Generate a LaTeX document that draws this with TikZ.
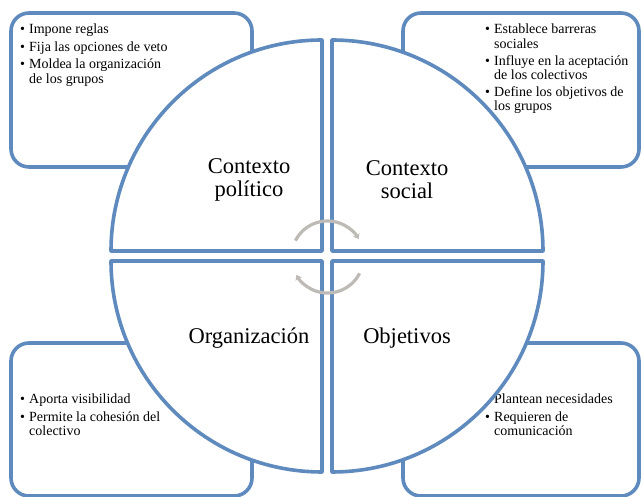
\documentclass[tikz,border=0pt]{standalone}
\usepackage{fontspec}
\setmainfont{Liberation Serif}
\usetikzlibrary{arrows.meta}
\definecolor{rimblue}{RGB}{94,138,190}
\definecolor{cyclegray}{RGB}{190,187,182}
\newcommand\bulitem{\makebox[9pt][l]{\textbullet}}
\newcommand\bulcont{\hspace*{9pt}}
\begin{document}
\begin{tikzpicture}[x=1pt,y=1pt,
  panel/.style={draw=rimblue, line width=3.6pt, rounded corners=18pt, fill=white},
  quarter/.style={draw=rimblue, line width=3.6pt, fill=white, line join=round},
  notes/.style={anchor=north west, inner sep=0pt, align=left,
    font=\fontsize{14}{14.3}\selectfont},
  quadtitle/.style={align=center, inner sep=0pt,
    font=\fontsize{22.5}{23}\selectfont},
  cyclearrow/.style={draw=cyclegray, line width=3.2pt,
    -{Stealth[length=5pt,width=7.5pt]}}
]
\useasboundingbox (0,0) rectangle (641,497);

% corner panels
\draw[panel] (11,330) rectangle (252,484);
\draw[panel] (403,330) rectangle (639,484);
\draw[panel] (11,1) rectangle (252,154);
\draw[panel] (403,1) rectangle (639,154);

% panel texts
\node[notes] (tlnotes) at (20,473)
  {\bulitem Impone reglas\\[3.2pt]
   \bulitem Fija las opciones de veto\\[3.2pt]
   \bulitem Moldea la organización\\
   \bulcont de los grupos};
\node[notes] (trnotes) at (485,473)
  {\bulitem Establece barreras\\
   \bulcont sociales\\[2.5pt]
   \bulitem Influye en la aceptación\\
   \bulcont de los colectivos\\[2.5pt]
   \bulitem Define los objetivos de\\
   \bulcont los grupos};
\node[notes] (blnotes) at (20,103)
  {\bulitem Aporta visibilidad\\[3.2pt]
   \bulitem Permite la cohesión del\\
   \bulcont colectivo};
\node[notes] (brnotes) at (485,103)
  {\bulitem Plantean necesidades\\[3.2pt]
   \bulitem Requieren de\\
   \bulcont comunicación};

% four quarter discs around the central gap
\coordinate (ctl) at (322,246);
\coordinate (ctr) at (332,246);
\coordinate (cbl) at (322,236);
\coordinate (cbr) at (332,236);
\draw[quarter] (ctl) -- ++(-211,0) arc[start angle=180, end angle=90, radius=211] -- cycle;
\draw[quarter] (ctr) -- ++(211,0) arc[start angle=0, end angle=90, radius=211] -- cycle;
\draw[quarter] (cbl) -- ++(-211,0) arc[start angle=180, end angle=270, radius=211] -- cycle;
\draw[quarter] (cbr) -- ++(211,0) arc[start angle=0, end angle=-90, radius=211] -- cycle;

% quadrant titles
\node[quadtitle] (politico) at (249,317) {Contexto\\político};
\node[quadtitle] (social) at (407,317) {Contexto\\social};
\node[quadtitle] (organiz) at (249,159) {Organización};
\node[quadtitle] (objet) at (407,159) {Objetivos};

% cycle arrows in the middle
\coordinate (hub) at (327.5,240);
\draw[cyclearrow] (hub) ++(153:36) arc[start angle=153, end angle=30, radius=36];
\draw[cyclearrow] (hub) ++(-27:36) arc[start angle=-27, end angle=-150, radius=36];
\end{tikzpicture}
\end{document}
